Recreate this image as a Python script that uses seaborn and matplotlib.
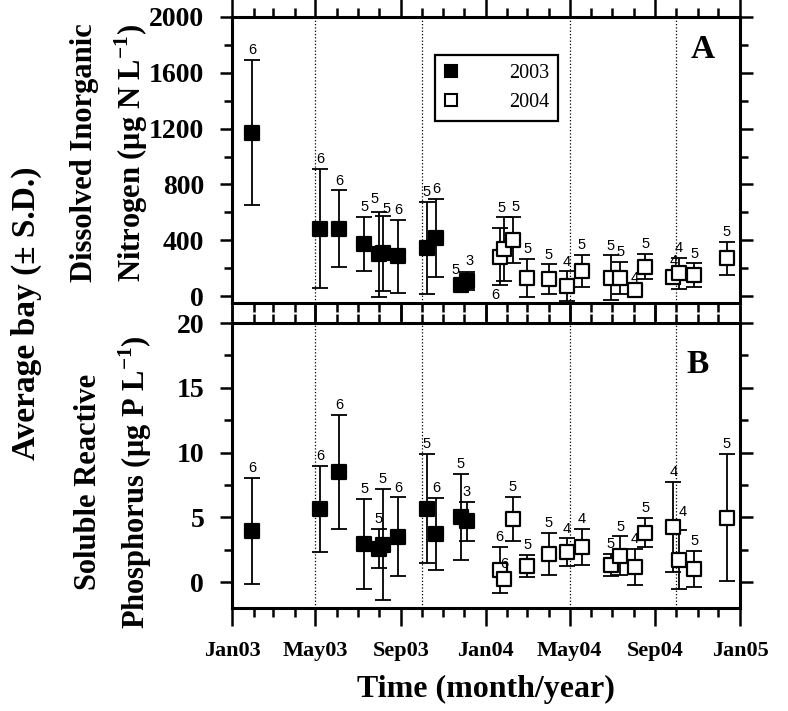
import pandas as pd
import numpy as np
import matplotlib
matplotlib.use("Agg")
import matplotlib.pyplot as plt
import matplotlib.dates as mdates
from matplotlib.ticker import MultipleLocator
from matplotlib.lines import Line2D
import seaborn as sns


# sampling dates (same for both variables)
dates_2003 = ["2003-01-30", "2003-05-08", "2003-06-04", "2003-07-10", "2003-07-31",
              "2003-08-06", "2003-08-28", "2003-10-08", "2003-10-22", "2003-11-26",
              "2003-12-05"]
dates_2004 = ["2004-01-21", "2004-01-28", "2004-02-09", "2004-03-01", "2004-04-01",
              "2004-04-27", "2004-05-18", "2004-06-29", "2004-07-13", "2004-08-03",
              "2004-08-18", "2004-09-27", "2004-10-05", "2004-10-27", "2004-12-13"]

# dissolved inorganic nitrogen (ug N/L)
din_2003_mean = [1170, 482, 482, 375, 299, 306, 284, 346, 418, 79, 108]
din_2003_sd = [520, 427, 275, 194, 305, 270, 263, 329, 280, 45, 65]
din_2003_n = [6, 6, 6, 5, 5, 5, 6, 5, 6, 5, 3]
din_2004_mean = [282, 335, 401, 127, 119, 72, 181, 131, 131, 43, 210, 134, 163, 148, 270]
din_2004_sd = [206, 228, 165, 137, 107, 105, 116, 161, 113, 15, 90, 47, 113, 86, 120]
din_2004_n = [6, 5, 5, 5, 5, 4, 5, 5, 5, 4, 5, 4, 4, 5, 5]

# soluble reactive phosphorus (ug P/L)
srp_2003_mean = [3.92, 5.67, 8.49, 2.95, 2.59, 2.90, 3.49, 5.67, 3.74, 5.03, 4.69]
srp_2003_sd = [4.1, 3.33, 4.4, 3.45, 1.5, 4.3, 3.05, 4.2, 2.77, 3.3, 1.5]
srp_2003_n = [6, 6, 6, 5, 5, 5, 6, 5, 6, 5, 3]
srp_2004_mean = [0.92, 0.21, 4.90, 1.23, 2.15, 2.33, 2.72, 1.31, 2.03, 1.18, 3.82,
                 4.26, 1.74, 1.03, 4.97]
srp_2004_sd = [1.8, 0.4, 1.7, 0.86, 1.62, 1.05, 1.38, 0.85, 1.5, 1.37, 1.13,
               3.5, 2.3, 1.38, 4.9]
srp_2004_n = [6, 6, 5, 5, 5, 4, 4, 5, 5, 4, 5, 4, 4, 5, 5]

season_lines = ["2003-05-01", "2003-10-01", "2004-05-01", "2004-10-01"]


def make_df(dates, mean, sd, n):
    return pd.DataFrame({"date": pd.to_datetime(dates), "mean": mean, "sd": sd, "n": n})


sns.set_style("ticks", {"axes.edgecolor": "black", "xtick.color": "black",
                        "ytick.color": "black", "text.color": "black",
                        "axes.labelcolor": "black"})
plt.rcParams["font.family"] = ["Liberation Serif", "DejaVu Serif"]
plt.rcParams["font.weight"] = "bold"

W, H = 788, 711
fig = plt.figure(figsize=(W / 100, H / 100), dpi=100)
ax_top = fig.add_axes([232 / W, 1 - 303 / H, 508 / W, 286 / H])
ax_bot = fig.add_axes([232 / W, 1 - 608 / H, 508 / W, 285 / H])


def draw_panel(ax, df03, df04, ylim, major, minor, letter, letter_xy, below=(), nudge=None):
    nudge = nudge or {}
    for d in season_lines:
        ax.axvline(pd.Timestamp(d), color="black", ls=":", lw=0.9, zorder=1)
    for year, df, face in [(2003, df03, "black"), (2004, df04, "white")]:
        ax.errorbar(df["date"], df["mean"], yerr=df["sd"], fmt="none", ecolor="black",
                    elinewidth=1.3, capsize=6, capthick=1.3, zorder=2)
        sns.scatterplot(data=df, x="date", y="mean", marker="s", s=100, color=face,
                        edgecolor="black", linewidth=1.6, ax=ax, zorder=3, legend=False)
        for i, r in df.iterrows():
            if (year, i) in below:
                xy, off, va = (r["date"], r["mean"] - r["sd"]), (-3, -2), "top"
            else:
                xy, off, va = (r["date"], r["mean"] + r["sd"]), (0, 2), "bottom"
            dx, dy = nudge.get((year, i), (0, 0))
            ax.annotate(str(r["n"]), xy, xytext=(off[0] + dx, off[1] + dy),
                        textcoords="offset points", ha="center", va=va, fontsize=10.5,
                        family="Liberation Sans", fontweight="normal")
    ax.set_xlim(pd.Timestamp("2003-01-01"), pd.Timestamp("2005-01-01"))
    ax.set_ylim(*ylim)
    ax.yaxis.set_major_locator(MultipleLocator(major))
    ax.yaxis.set_minor_locator(MultipleLocator(minor))
    ax.xaxis.set_major_locator(mdates.MonthLocator(bymonth=[1, 5, 9]))
    ax.xaxis.set_minor_locator(mdates.MonthLocator())
    ax.xaxis.set_major_formatter(mdates.DateFormatter("%b%y"))
    ax.set_xlabel("")
    ax.set_ylabel("")
    for sp in ax.spines.values():
        sp.set_linewidth(2.2)
    ax.tick_params(axis="x", which="both", direction="out", top=True, bottom=True,
                   width=1.8)
    ax.tick_params(axis="x", which="major", length=13, pad=11, labelsize=16)
    ax.tick_params(axis="x", which="minor", length=6.5)
    ax.tick_params(axis="y", which="both", direction="out", left=True, right=True,
                   width=1.8)
    ax.tick_params(axis="y", which="major", length=9, pad=11, labelsize=20)
    ax.tick_params(axis="y", which="minor", length=6)
    for lab in ax.get_xticklabels() + ax.get_yticklabels():
        lab.set_fontweight("bold")
    ax.text(letter_xy[0], letter_xy[1], letter, transform=ax.transAxes, ha="center",
            va="center", fontsize=24, fontweight="bold")


draw_panel(ax_top,
           make_df(dates_2003, din_2003_mean, din_2003_sd, din_2003_n),
           make_df(dates_2004, din_2004_mean, din_2004_sd, din_2004_n),
           (-50, 2000), 400, 200, "A", (0.927, 0.885), below={(2004, 0)},
           nudge={(2003, 4): (-3, 2), (2003, 5): (3, -2), (2003, 9): (-4, -1),
                  (2003, 10): (2, 1), (2004, 1): (-2, 0), (2004, 2): (2, 0)})
draw_panel(ax_bot,
           make_df(dates_2003, srp_2003_mean, srp_2003_sd, srp_2003_n),
           make_df(dates_2004, srp_2004_mean, srp_2004_sd, srp_2004_n),
           (-2, 20), 5, 2.5, "B", (0.917, 0.853),
           nudge={(2004, 12): (3, 6)})
ax_top.tick_params(axis="x", labelbottom=False)

handles = [Line2D([], [], ls="none", marker="s", ms=9, mfc="black", mec="black", mew=1.5),
           Line2D([], [], ls="none", marker="s", ms=9, mfc="white", mec="black", mew=1.5)]
leg = ax_top.legend(handles, ["2003", "2004"], loc="upper left",
                    bbox_to_anchor=(0.40, 0.867), borderaxespad=0, borderpad=0.45,
                    handlelength=0.7, handletextpad=2.5, labelspacing=0.5,
                    fancybox=False, framealpha=1, edgecolor="black",
                    prop={"family": "Liberation Serif", "size": 14.5, "weight": "normal"})
leg.get_frame().set_linewidth(1.6)

fig.text(26 / W, 1 - 313 / H, "Average bay (\u00b1 S.D.)", rotation=90, ha="center",
         va="center", fontsize=24, fontweight="bold")
fig.text(110 / W, 1 - 153 / H,
         "Dissolved Inorganic\nNitrogen (\u03bcg N L$^{\\mathregular{-1}}$)",
         rotation=90, ha="center", va="center", fontsize=22, fontweight="bold",
         linespacing=1.45)
fig.text(114 / W, 1 - 482 / H,
         "Soluble Reactive\nPhosphorus (\u03bcg P L$^{\\mathregular{-1}}$)",
         rotation=90, ha="center", va="center", fontsize=22, fontweight="bold",
         linespacing=1.45)
fig.text(486 / W, 1 - 689 / H, "Time (month/year)", ha="center", va="center",
         fontsize=23, fontweight="bold")

fig.savefig("out.png", dpi=100)
